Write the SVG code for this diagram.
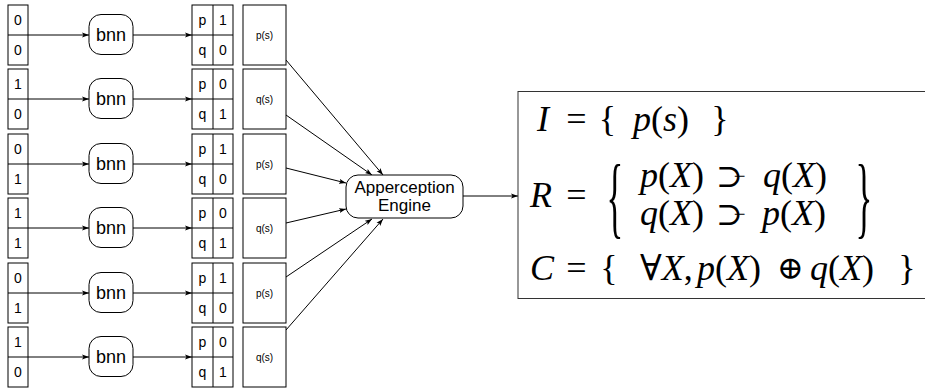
<svg xmlns="http://www.w3.org/2000/svg" width="925" height="389" viewBox="0 0 925 389">
<style>
.box{fill:#fff;stroke:#000;stroke-width:1}
.ln{stroke:#000;stroke-width:1;fill:none}
.arr{stroke:#000;stroke-width:1;fill:none;marker-end:url(#ah)}
.t14{font-family:"Liberation Sans",Arial,sans-serif;font-size:14px;text-anchor:middle;fill:#000}
.t18{font-family:"Liberation Sans",Arial,sans-serif;font-size:18px;text-anchor:middle;fill:#000}
.t17{font-family:"Liberation Sans",Arial,sans-serif;font-size:17px;text-anchor:middle;fill:#000}
.t10{font-family:"Liberation Sans",Arial,sans-serif;font-size:10px;text-anchor:middle;fill:#000}
.m{font-family:Liberation Serif,Times New Roman,DejaVu Serif,serif;font-size:36px;fill:#000}
.mi{font-style:italic}
.mc{text-anchor:middle}
.big{font-size:92px}
.sup{font-size:32px}
.tail{font-size:21px}
.op{font-size:32px}
</style>
<defs>
<marker id="ah" markerUnits="userSpaceOnUse" markerWidth="7" markerHeight="6" refX="7" refY="3" orient="auto">
<path d="M0,0.5 L7,3 L0,5.5 L1.5,3 Z" fill="#000"/>
</marker>
</defs>

<g id="connectors">
<line class="arr" x1="28" y1="35" x2="89" y2="35"/>
<line class="arr" x1="133" y1="35" x2="192" y2="35"/>
<line class="arr" x1="28" y1="99" x2="89" y2="99"/>
<line class="arr" x1="133" y1="99" x2="192" y2="99"/>
<line class="arr" x1="28" y1="164" x2="89" y2="164"/>
<line class="arr" x1="133" y1="164" x2="192" y2="164"/>
<line class="arr" x1="28" y1="228" x2="89" y2="228"/>
<line class="arr" x1="133" y1="228" x2="192" y2="228"/>
<line class="arr" x1="28" y1="293" x2="89" y2="293"/>
<line class="arr" x1="133" y1="293" x2="192" y2="293"/>
<line class="arr" x1="28" y1="357" x2="89" y2="357"/>
<line class="arr" x1="133" y1="357" x2="192" y2="357"/>
<line class="arr" x1="286" y1="60" x2="383" y2="175"/>
<line class="arr" x1="286" y1="115" x2="372" y2="175"/>
<line class="arr" x1="286" y1="168" x2="346" y2="183"/>
<line class="arr" x1="286" y1="223" x2="346" y2="209"/>
<line class="arr" x1="286" y1="277" x2="372" y2="219"/>
<line class="arr" x1="286" y1="330" x2="383" y2="219"/>
<line class="arr" x1="463" y1="196" x2="518" y2="196"/>
</g>

<g id="input1"><rect class="box" x="8" y="5" width="20" height="60"/><line class="ln" x1="8" y1="35" x2="28" y2="35"/><text class="t14" x="18" y="25">0</text><text class="t14" x="18" y="55">0</text></g>
<g id="input2"><rect class="box" x="8" y="69" width="20" height="60"/><line class="ln" x1="8" y1="99" x2="28" y2="99"/><text class="t14" x="18" y="89">1</text><text class="t14" x="18" y="119">0</text></g>
<g id="input3"><rect class="box" x="8" y="134" width="20" height="60"/><line class="ln" x1="8" y1="164" x2="28" y2="164"/><text class="t14" x="18" y="154">0</text><text class="t14" x="18" y="184">1</text></g>
<g id="input4"><rect class="box" x="8" y="198" width="20" height="60"/><line class="ln" x1="8" y1="228" x2="28" y2="228"/><text class="t14" x="18" y="218">1</text><text class="t14" x="18" y="248">1</text></g>
<g id="input5"><rect class="box" x="8" y="263" width="20" height="60"/><line class="ln" x1="8" y1="293" x2="28" y2="293"/><text class="t14" x="18" y="283">0</text><text class="t14" x="18" y="313">1</text></g>
<g id="input6"><rect class="box" x="8" y="327" width="20" height="60"/><line class="ln" x1="8" y1="357" x2="28" y2="357"/><text class="t14" x="18" y="347">1</text><text class="t14" x="18" y="377">0</text></g>

<g id="bnn1"><rect class="box" x="89" y="14.5" width="44" height="40" rx="12"/><text class="t18" x="111" y="41">bnn</text></g>
<g id="bnn2"><rect class="box" x="89" y="78.5" width="44" height="40" rx="12"/><text class="t18" x="111" y="105">bnn</text></g>
<g id="bnn3"><rect class="box" x="89" y="143.5" width="44" height="40" rx="12"/><text class="t18" x="111" y="170">bnn</text></g>
<g id="bnn4"><rect class="box" x="89" y="207.5" width="44" height="40" rx="12"/><text class="t18" x="111" y="234">bnn</text></g>
<g id="bnn5"><rect class="box" x="89" y="272.5" width="44" height="40" rx="12"/><text class="t18" x="111" y="299">bnn</text></g>
<g id="bnn6"><rect class="box" x="89" y="336.5" width="44" height="40" rx="12"/><text class="t18" x="111" y="363">bnn</text></g>

<g id="table1"><rect class="box" x="192" y="5" width="41" height="60"/><line class="ln" x1="213" y1="5" x2="213" y2="65"/><line class="ln" x1="192" y1="35" x2="233" y2="35"/><text class="t14" x="202.5" y="25">p</text><text class="t14" x="202.5" y="55">q</text><text class="t14" x="223" y="25">1</text><text class="t14" x="223" y="55">0</text></g>
<g id="table2"><rect class="box" x="192" y="69" width="41" height="60"/><line class="ln" x1="213" y1="69" x2="213" y2="129"/><line class="ln" x1="192" y1="99" x2="233" y2="99"/><text class="t14" x="202.5" y="89">p</text><text class="t14" x="202.5" y="119">q</text><text class="t14" x="223" y="89">0</text><text class="t14" x="223" y="119">1</text></g>
<g id="table3"><rect class="box" x="192" y="134" width="41" height="60"/><line class="ln" x1="213" y1="134" x2="213" y2="194"/><line class="ln" x1="192" y1="164" x2="233" y2="164"/><text class="t14" x="202.5" y="154">p</text><text class="t14" x="202.5" y="184">q</text><text class="t14" x="223" y="154">1</text><text class="t14" x="223" y="184">0</text></g>
<g id="table4"><rect class="box" x="192" y="198" width="41" height="60"/><line class="ln" x1="213" y1="198" x2="213" y2="258"/><line class="ln" x1="192" y1="228" x2="233" y2="228"/><text class="t14" x="202.5" y="218">p</text><text class="t14" x="202.5" y="248">q</text><text class="t14" x="223" y="218">0</text><text class="t14" x="223" y="248">1</text></g>
<g id="table5"><rect class="box" x="192" y="263" width="41" height="60"/><line class="ln" x1="213" y1="263" x2="213" y2="323"/><line class="ln" x1="192" y1="293" x2="233" y2="293"/><text class="t14" x="202.5" y="283">p</text><text class="t14" x="202.5" y="313">q</text><text class="t14" x="223" y="283">1</text><text class="t14" x="223" y="313">0</text></g>
<g id="table6"><rect class="box" x="192" y="327" width="41" height="60"/><line class="ln" x1="213" y1="327" x2="213" y2="387"/><line class="ln" x1="192" y1="357" x2="233" y2="357"/><text class="t14" x="202.5" y="347">p</text><text class="t14" x="202.5" y="377">q</text><text class="t14" x="223" y="347">0</text><text class="t14" x="223" y="377">1</text></g>

<g id="pred1"><rect class="box" x="243" y="5" width="43" height="60"/><text class="t10" x="264.5" y="39">p(s)</text></g>
<g id="pred2"><rect class="box" x="243" y="69" width="43" height="60"/><text class="t10" x="264.5" y="103">q(s)</text></g>
<g id="pred3"><rect class="box" x="243" y="134" width="43" height="60"/><text class="t10" x="264.5" y="168">p(s)</text></g>
<g id="pred4"><rect class="box" x="243" y="198" width="43" height="60"/><text class="t10" x="264.5" y="232">q(s)</text></g>
<g id="pred5"><rect class="box" x="243" y="263" width="43" height="60"/><text class="t10" x="264.5" y="297">p(s)</text></g>
<g id="pred6"><rect class="box" x="243" y="327" width="43" height="60"/><text class="t10" x="264.5" y="361">q(s)</text></g>

<g id="engine"><rect class="box" x="346" y="175" width="117" height="43" rx="12"/><text class="t17" x="404.5" y="193">Apperception</text><text class="t17" x="404.5" y="211">Engine</text></g>

<g id="theory">
<rect x="518" y="91.5" width="420" height="207" fill="#fff" stroke="#333" stroke-width="1"/>
<text class="m mi" x="537" y="131">I</text>
<text class="m mc" x="576.5" y="131">=</text>
<text class="m mc" x="607.5" y="131">{</text>
<text class="m" x="633" y="131"><tspan class="mi">p</tspan>(<tspan class="mi">s</tspan>)</text>
<text class="m mc" x="720" y="131">}</text>

<text class="m mi" x="530" y="207">R</text>
<text class="m mc" x="576.5" y="207">=</text>
<text class="m mc big" transform="translate(615,0) scale(0.38,1)" x="0" y="227">{</text>
<text class="m" x="640" y="187"><tspan class="mi">p</tspan>(<tspan class="mi">X</tspan>)</text>
<text class="m sup" x="716" y="187">⊃<tspan class="tail" dx="-9" dy="-4">−</tspan></text>
<text class="m" x="763" y="187"><tspan class="mi">q</tspan>(<tspan class="mi">X</tspan>)</text>
<text class="m" x="640" y="225"><tspan class="mi">q</tspan>(<tspan class="mi">X</tspan>)</text>
<text class="m sup" x="716" y="225">⊃<tspan class="tail" dx="-9" dy="-4">−</tspan></text>
<text class="m" x="762" y="225"><tspan class="mi">p</tspan>(<tspan class="mi">X</tspan>)</text>
<text class="m mc big" transform="translate(864,0) scale(0.38,1)" x="0" y="227">}</text>

<text class="m mi" x="530" y="280">C</text>
<text class="m mc" x="576.5" y="280">=</text>
<text class="m mc" x="609" y="280">{</text>
<text class="m" x="640" y="280">∀<tspan class="mi">X</tspan>,</text>
<text class="m" x="697" y="280"><tspan class="mi">p</tspan>(<tspan class="mi">X</tspan>)</text>
<text class="m op" x="777" y="279">⊕</text>
<text class="m" x="810" y="280"><tspan class="mi">q</tspan>(<tspan class="mi">X</tspan>)</text>
<text class="m mc" x="907" y="280">}</text>
</g>
</svg>
